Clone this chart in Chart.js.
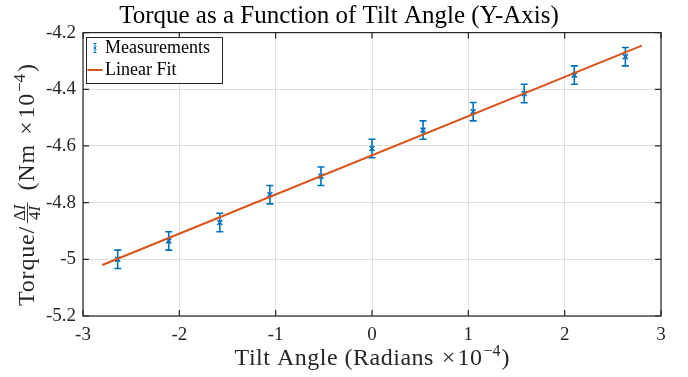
<!DOCTYPE html>
<html>
<head>
<meta charset="utf-8">
<script src="https://cdn.jsdelivr.net/npm/chart.js@4.4.1/dist/chart.umd.min.js"></script>
<style>
html, body { margin: 0; padding: 0; background: #ffffff; }
#wrap { width: 688px; height: 377px; }
</style>
</head>
<body>
<div id="wrap"><canvas id="c" width="688" height="377"></canvas></div>
<script>
// ---- data ----
const tiltAngle = [-2.64, -2.11, -1.58, -1.06, -0.53, 0.00, 0.53, 1.05, 1.58, 2.10, 2.63];
const torque    = [-5.000, -4.935, -4.870, -4.772, -4.707, -4.609, -4.544, -4.479, -4.415, -4.350, -4.285];
const torqueErr = [0.0325, 0.0325, 0.0325, 0.0325, 0.0325, 0.0325, 0.0325, 0.0325, 0.0325, 0.0325, 0.0325];
const fitX = [-2.80, 2.80];
const fitY = [-5.020, -4.246];
const xTicks = [-3, -2, -1, 0, 1, 2, 3];
const yTicks = [-5.2, -5.0, -4.8, -4.6, -4.4, -4.2];

const chartTitle = 'Torque as a Function of Tilt Angle (Y-Axis)';
const seriesNames = ['Measurements', 'Linear Fit'];

const BLUE = '#0072BD';
const ORANGE = '#D95319';
const AX = '#262626';
const SERIF = '"Liberation Serif", "Times New Roman", serif';

const fmt = v => String(Number(Number(v).toFixed(2)));

function drawRun(ctx, parts, x0, y0) {
  let x = x0;
  parts.forEach(p => {
    x += p.pre || 0;
    ctx.font = p.font;
    ctx.letterSpacing = (p.ls || 0) + 'px';
    ctx.fillText(p.t, x, y0 + (p.dy || 0));
    x += ctx.measureText(p.t).width;
  });
  ctx.letterSpacing = '0px';
  return x;
}
function runWidth(ctx, parts) {
  let w = 0;
  parts.forEach(p => {
    w += p.pre || 0;
    ctx.font = p.font;
    ctx.letterSpacing = (p.ls || 0) + 'px';
    w += ctx.measureText(p.t).width;
  });
  ctx.letterSpacing = '0px';
  return w;
}

const matlabAxes = {
  id: 'matlabAxes',
  beforeDatasetsDraw(chart) {
    const { ctx, scales: { x, y } } = chart;
    ctx.save();
    ctx.strokeStyle = BLUE;
    ctx.lineWidth = 1.6;
    for (let i = 0; i < tiltAngle.length; i++) {
      const px = x.getPixelForValue(tiltAngle[i]);
      const y1 = y.getPixelForValue(torque[i] - torqueErr[i]);
      const y2 = y.getPixelForValue(torque[i] + torqueErr[i]);
      ctx.beginPath();
      ctx.moveTo(px, y1); ctx.lineTo(px, y2);
      ctx.moveTo(px - 3.5, y1); ctx.lineTo(px + 3.5, y1);
      ctx.moveTo(px - 3.5, y2); ctx.lineTo(px + 3.5, y2);
      ctx.stroke();
    }
    ctx.restore();
  },
  afterDatasetsDraw(chart) {
    const { ctx, chartArea: a, scales: { x, y } } = chart;
    ctx.save();
    // box
    ctx.strokeStyle = AX;
    ctx.lineWidth = 1.2;
    ctx.strokeRect(a.left, a.top, a.right - a.left, a.bottom - a.top);
    // inward ticks
    const tl = 6;
    ctx.beginPath();
    xTicks.forEach(v => {
      const px = x.getPixelForValue(v);
      ctx.moveTo(px, a.bottom); ctx.lineTo(px, a.bottom - tl);
      ctx.moveTo(px, a.top); ctx.lineTo(px, a.top + tl);
    });
    yTicks.forEach(v => {
      const py = y.getPixelForValue(v);
      ctx.moveTo(a.left, py); ctx.lineTo(a.left + tl, py);
      ctx.moveTo(a.right, py); ctx.lineTo(a.right - tl, py);
    });
    ctx.stroke();

    // legend
    const lx = 86.5, ly = 37.5, lw = 136, lh = 46;
    ctx.fillStyle = '#ffffff';
    ctx.fillRect(lx, ly, lw, lh);
    ctx.strokeStyle = AX;
    ctx.lineWidth = 1;
    ctx.strokeRect(lx, ly, lw, lh);
    const e1y = 48, ix = 95;
    ctx.strokeStyle = BLUE;
    ctx.lineWidth = 1;
    ctx.beginPath();
    ctx.moveTo(ix, e1y - 4.5); ctx.lineTo(ix, e1y + 4.5);
    ctx.moveTo(ix - 1.5, e1y - 4.5); ctx.lineTo(ix + 1.5, e1y - 4.5);
    ctx.moveTo(ix - 1.5, e1y + 4.5); ctx.lineTo(ix + 1.5, e1y + 4.5);
    ctx.moveTo(ix - 1.5, e1y - 1.5); ctx.lineTo(ix + 1.5, e1y + 1.5);
    ctx.moveTo(ix - 1.5, e1y + 1.5); ctx.lineTo(ix + 1.5, e1y - 1.5);
    ctx.stroke();
    const e2y = 70;
    ctx.strokeStyle = ORANGE;
    ctx.lineWidth = 2;
    ctx.beginPath();
    ctx.moveTo(87.5, e2y); ctx.lineTo(102.5, e2y);
    ctx.stroke();
    ctx.fillStyle = '#000000';
    ctx.font = '18px ' + SERIF;
    ctx.textAlign = 'left';
    ctx.textBaseline = 'middle';
    ctx.fillText(seriesNames[0], 105, e1y);
    ctx.fillText(seriesNames[1], 105, e2y);

    const BIG = '24px ' + SERIF, SUP = '16px ' + SERIF;
    ctx.textBaseline = 'alphabetic';
    ctx.fillStyle = AX;
    // x-axis title
    {
      const parts = [
        { t: 'Tilt Angle (Radians', font: BIG, ls: 0.5 },
        { t: '\u00D7', font: BIG, pre: 8 },
        { t: '10', font: BIG, pre: 2, ls: 0.5 },
        { t: '\u22124', font: SUP, dy: -9, pre: 1 },
        { t: ')', font: BIG, pre: 1 }
      ];
      const W = runWidth(ctx, parts);
      drawRun(ctx, parts, (a.left + a.right) / 2 - W / 2, 364.5);
    }
    // y-axis title
    {
      ctx.save();
      const cy = (a.top + a.bottom) / 2;
      ctx.translate(34, cy);
      ctx.rotate(-Math.PI / 2);
      const FR = '17px ' + SERIF, FRI = 'italic 17px ' + SERIF;
      let sx = -(306 - cy);
      sx = drawRun(ctx, [{ t: 'Torque/', font: BIG, ls: 0.8 }], sx, 0);
      ctx.font = FR; const wD = ctx.measureText('\u0394').width, w4n = ctx.measureText('4').width;
      ctx.font = FRI; const wI = ctx.measureText('I').width;
      const numW = wD + wI, denW = w4n + wI;
      const fw = Math.max(numW, denW) + 8;
      const fx = sx + 1;
      drawRun(ctx, [{ t: '\u0394', font: FR }, { t: 'I', font: FRI }], fx + (fw - numW) / 2, -9.5);
      drawRun(ctx, [{ t: '4', font: FR }, { t: 'I', font: FRI }], fx + (fw - denW) / 2, 6);
      ctx.strokeStyle = AX; ctx.lineWidth = 0.9;
      ctx.beginPath(); ctx.moveTo(fx + 2, -6.5); ctx.lineTo(fx + fw - 2, -6.5); ctx.stroke();
      sx = fx + fw;
      drawRun(ctx, [
        { t: '(Nm', font: BIG, pre: 10, ls: 0.8 },
        { t: '\u00D7', font: BIG, pre: 9 },
        { t: '10', font: BIG, pre: 3, ls: 0.8 },
        { t: '\u22124', font: '17px ' + SERIF, dy: -9, pre: 1 },
        { t: ')', font: BIG, pre: 2 }
      ], sx, 0);
      ctx.restore();
    }
    ctx.restore();
  }
};

Chart.defaults.color = AX;
Chart.defaults.font.family = SERIF;

new Chart(document.getElementById('c'), {
  type: 'scatter',
  data: {
    datasets: [
      {
        label: seriesNames[1],
        type: 'line',
        data: fitX.map((v, i) => ({ x: v, y: fitY[i] })),
        borderColor: ORANGE,
        backgroundColor: ORANGE,
        borderWidth: 2,
        pointRadius: 0,
        fill: false,
        tension: 0,
        order: 0
      },
      {
        label: seriesNames[0],
        data: tiltAngle.map((v, i) => ({ x: v, y: torque[i] })),
        pointStyle: 'crossRot',
        pointRadius: 3.5,
        borderWidth: 1.6,
        borderColor: BLUE,
        backgroundColor: BLUE,
        order: 1
      }
    ]
  },
  options: {
    responsive: false,
    animation: false,
    devicePixelRatio: 1,
    layout: { padding: { left: 17, right: 27, top: 0, bottom: 0 } },
    plugins: {
      legend: { display: false },
      tooltip: { enabled: false },
      title: {
        display: true,
        text: chartTitle,
        color: '#000000',
        font: { family: SERIF, size: 25, weight: 'normal' },
        padding: { top: 1, bottom: 1.6 }
      }
    },
    scales: {
      x: {
        type: 'linear',
        min: -3, max: 3,
        afterBuildTicks: s => { s.ticks = xTicks.map(v => ({ value: v })); },
        afterFit: s => { s.height = 61; },
        grid: { color: '#dfdfdf', lineWidth: 1, drawTicks: false },
        border: { display: false },
        ticks: { padding: 8, color: AX, font: { family: SERIF, size: 19 }, callback: v => fmt(v), maxRotation: 0 },
        title: { display: false }
      },
      y: {
        type: 'linear',
        min: -5.2, max: -4.2,
        afterBuildTicks: s => { s.ticks = yTicks.map(v => ({ value: v })); },
        afterFit: s => { s.width = 66; },
        grid: { color: '#dfdfdf', lineWidth: 1, drawTicks: false },
        border: { display: false },
        ticks: { padding: 7, color: AX, font: { family: SERIF, size: 19 }, callback: v => fmt(v) },
        title: { display: false }
      }
    }
  },
  plugins: [matlabAxes]
});
</script>
</body>
</html>
